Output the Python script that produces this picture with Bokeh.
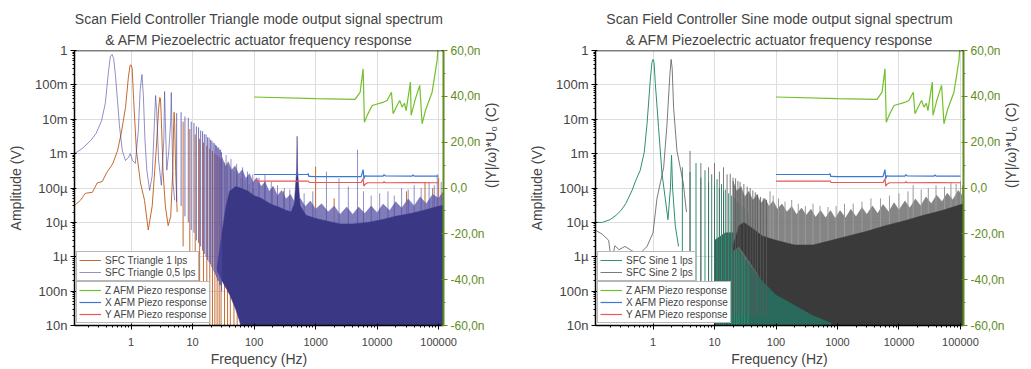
import math
from bokeh.plotting import figure
from bokeh.models import (Range1d, LinearAxis, LinearScale, FixedTicker, Legend, LegendItem,
                          Title, Span)
from bokeh.layouts import row
from bokeh.embed import file_html
from bokeh.resources import INLINE

FONT = "Liberation Sans"

# ---------------- axis ticks / labels ----------------
x_ticks = [1, 10, 100, 1000, 10000, 100000]
x_tick_labels = ["1", "10", "100", "1000", "10000", "100000"]
y_ticks = [1e-8, 1e-7, 1e-6, 1e-5, 1e-4, 1e-3, 1e-2, 1e-1, 1.0]
y_tick_labels = ["10n", "100n", "1µ", "10µ", "100µ", "1m", "10m", "100m", "1"]
r_ticks = [-60, -40, -20, 0, 20, 40, 60]
r_tick_labels = ["-60,0n", "-40,0n", "-20,0n", "0,0", "20,0n", "40,0n", "60,0n"]

# ---------------- Triangle mode spectra (Hz, V) ----------------
tri1_f = [0.12, 0.15, 0.18, 0.235, 0.28, 0.34, 0.40, 0.50, 0.60, 0.69, 0.81, 0.90, 0.96, 1.0, 1.04,
          1.1, 1.22, 1.42, 1.65, 1.9, 2.2, 2.55, 2.8, 2.92, 3.0, 3.1, 3.3, 3.6, 4.0, 4.4, 4.75, 4.9,
          5.0, 5.1, 5.3, 5.6]
tri1_a = [3.1e-5, 4.4e-5, 7e-5, 7.5e-5, 1.4e-4, 1.55e-4, 2.8e-4, 5e-4, 1.2e-3, 3.9e-3, 2.2e-2, 0.16,
          0.37, 0.38, 0.3, 0.035, 1.2e-3, 1.4e-4, 4.4e-5, 6e-6, 3e-5, 1.2e-3, 0.02, 0.043, 0.04, 0.01,
          3e-4, 3e-5, 8e-6, 1.5e-5, 3e-4, 6e-3, 0.016, 0.008, 3e-4, 2e-5]
tri1_spk_f = [7, 9, 11, 13, 15, 17, 19, 21, 23, 25, 27, 29, 33, 37, 41, 47, 53, 61, 71, 83, 97,
              150, 199, 301, 1000, 2000, 30000, 60000, 80000, 100000]
tri1_spk_top = [0.0085, 0.0052, 0.0036, 0.0027, 0.0021, 0.0017, 0.0014, 0.0012, 0.001, 9e-4, 8e-4,
                7e-4, 5.5e-4, 4.5e-4, 3.8e-4, 3e-4, 2.5e-4, 2e-4, 1.6e-4, 1.3e-4, 1e-4,
                1.5e-4, 1.1e-4, 8e-5, 4.2e-4, 5e-5, 8e-5, 1.5e-4, 1e-4, 2e-4]
tri1_spk_low = [2e-6, 8e-7, 4e-7, 1.5e-7, 6e-8, 3e-8, 1e-9, 1e-9, 1e-9, 1e-9, 1e-9, 1e-9, 1e-9, 1e-9,
                1e-9, 1e-9, 1e-9, 1e-9, 1e-9, 1e-9, 1e-9, 1e-9, 1e-9, 1e-9, 1e-9, 1e-9, 1e-9, 1e-9,
                1e-9, 1e-9]

tri05_f = [0.12, 0.16, 0.22, 0.27, 0.33, 0.38, 0.43, 0.46, 0.49, 0.52, 0.556, 0.6, 0.645, 0.72, 0.81,
           0.9, 0.97, 1.05, 1.17, 1.31, 1.4, 1.5, 1.58, 1.68, 1.8, 2.0, 2.2, 2.4, 2.5, 2.6, 2.8, 3.1,
           3.4, 3.5, 3.6, 3.8, 4.1, 4.4, 4.5, 4.6, 4.8, 5.1]
tri05_a = [1.0e-3, 1.4e-3, 2.4e-3, 3.9e-3, 9e-3, 0.029, 0.26, 0.67, 0.77, 0.58, 0.19, 0.035, 6.6e-3,
           1.2e-3, 6.3e-4, 7.6e-4, 1e-3, 6.3e-4, 5.2e-4, 4.7e-3, 0.068, 0.2, 0.049, 2.4e-3, 3.3e-4,
           8.5e-5, 2.3e-4, 9e-3, 0.049, 0.018, 6.3e-4, 1.2e-4, 2.4e-3, 0.064, 9e-3, 3.3e-4, 1.2e-3,
           9e-3, 0.06, 4.7e-3, 1.5e-4, 4.4e-5]
tri05_spk_f = [5.5, 6.5, 7.5, 8.5, 9.5, 10.5, 11.5, 12.5, 13.5, 14.5, 15.5, 16.5, 17.5, 18.5, 19.5,
               20.5, 21.5, 22.5, 23.5, 24.5, 25.5, 26.5, 27.5, 28.5, 29.5]
tri05_spk_top = [0.015, 0.016, 0.012, 0.011, 0.0085, 0.0078, 0.0062, 0.0058, 0.0047, 0.0045, 0.0037,
                 0.0036, 0.003, 0.0029, 0.0025, 0.0024, 0.0021, 0.002, 0.0018, 0.0017, 0.0015,
                 0.0015, 0.0013, 0.0013, 0.0011]
tri05_spk_low = [4e-5, 3e-5, 1.5e-5, 1e-5, 6e-6, 5e-6, 3e-6, 2.5e-6, 2e-6, 1.5e-6, 1.2e-6, 1e-6,
                 8e-7, 7e-7, 6e-7, 5e-7, 4e-7, 3.5e-7, 3e-7, 2.5e-7, 2e-7, 2e-7, 1.5e-7, 1.5e-7,
                 1e-7]
# isolated tall lines standing out of the dense region
tri05_hf_f = [35, 42, 52, 65, 78, 95, 120, 150, 190, 240, 310, 380, 650, 900, 1500, 2400, 3400,
              4800, 6000, 8000, 11000, 15000, 19000, 25000, 32000, 40000, 52000, 70000, 85000,
              95000, 110000]
tri05_hf_top = [9e-4, 7e-4, 5e-4, 4e-4, 3e-4, 2.5e-4, 2e-4, 2.5e-4, 1.5e-4, 1.2e-4, 1e-4, 9e-5,
                7e-5, 8e-5, 3e-4, 1.9e-4, 1.1e-4, 1.3e-3, 8e-5, 6e-5, 7e-5, 8e-5, 6e-5, 1e-4, 9e-5,
                1.2e-4, 1e-4, 1.5e-4, 1.2e-4, 2.5e-4, 1.5e-4]
# jagged upper fringe of the dense harmonic region
tri05_fuzz_f = [30, 34, 38, 43, 49, 56, 64, 73, 84, 96, 110, 130, 150, 175, 205, 240, 280, 330, 390,
                460, 560, 680, 820, 1000, 1250, 1600, 2000, 2500, 3200, 4000, 5000, 6300, 8000,
                10000, 12500, 16000, 20000, 25000, 32000, 40000, 50000, 63000, 80000, 100000, 120000]
tri05_fuzz_hi = [7.8e-4, 4.2e-4, 5.8e-4, 3.3e-4, 4.4e-4, 2.5e-4, 3.4e-4, 1.9e-4, 2.6e-4, 1.45e-4,
                 2e-4, 1.1e-4, 1.5e-4, 8e-5, 1.1e-4, 6e-5, 8.5e-5, 4.8e-5, 6.5e-5, 3.7e-5, 5e-5,
                 2.9e-5, 4.2e-5, 2.4e-5, 3.5e-5, 2e-5, 3e-5, 1.7e-5, 2.8e-5, 1.7e-5, 2.8e-5, 1.8e-5,
                 3e-5, 1.9e-5, 3.4e-5, 2.2e-5, 4e-5, 2.6e-5, 4.8e-5, 3e-5, 5.5e-5, 3.5e-5, 6.5e-5,
                 5e-5, 8e-5]
tri05_fuzz_lo_f = [30, 40, 60, 70, 120000]
tri05_fuzz_lo_a = [5e-7, 2e-7, 1e-8, 1e-9, 1e-9]
# dark solid part of the dense harmonic region
tri05_core_f = [25, 30, 35, 40, 50, 60, 80, 100, 130, 160, 200, 250, 320, 400, 450, 490, 500, 510,
                560, 700, 1000, 1500, 2500, 4000, 7000, 12000, 20000, 35000, 60000, 90000, 120000]
tri05_core_hi = [5e-7, 5e-6, 3e-5, 8e-5, 1.1e-4, 1e-4, 8e-5, 6e-5, 5e-5, 4e-5, 3.2e-5, 2.8e-5,
                 2.3e-5, 2e-5, 3.5e-5, 3e-4, 3.2e-3, 3e-4, 3e-5, 1.6e-5, 1.3e-5, 1.1e-5, 9e-6, 9e-6,
                 1e-5, 1.2e-5, 1.5e-5, 1.8e-5, 2.3e-5, 2.8e-5, 3.2e-5]
tri05_core_lo_f = [25, 30, 40, 50, 60, 70, 120000]
tri05_core_lo_a = [4e-7, 2e-7, 8e-8, 3e-8, 1.2e-8, 1e-9, 1e-9]

# ---------------- Sine mode spectra (Hz, V) ----------------
sin1_f = [0.116, 0.15, 0.2, 0.25, 0.3, 0.36, 0.456, 0.52, 0.62, 0.72, 0.8, 0.9, 0.96, 1.0, 1.04,
          1.09, 1.23, 1.4, 1.58, 1.75, 1.92, 2.0, 2.08, 2.3, 2.6]
sin1_a = [1e-5, 1e-5, 1.2e-5, 1.6e-5, 2.2e-5, 3.5e-5, 8.5e-5, 1.6e-4, 3.3e-4, 1.1e-3, 7.5e-3, 0.13,
          0.45, 0.55, 0.45, 0.11, 5.8e-3, 2.6e-4, 5e-5, 1.2e-5, 1e-4, 9e-4, 1e-4, 8e-6, 2e-6]
sin1_spk_f = [3, 4, 5, 6, 7, 8, 9, 10, 11, 12, 13, 14, 15, 17, 19, 21, 23, 25, 28, 31, 35]
sin1_spk_top = [4e-4, 2.9e-4, 5.3e-4, 2e-4, 3.3e-4, 1.5e-4, 2.5e-4, 1.2e-4, 1.8e-4, 1e-4, 1.3e-4,
                8e-5, 9e-5, 7e-5, 6e-5, 5e-5, 4e-5, 3.5e-5, 3e-5, 2.5e-5, 2e-5]
sin1_spk_low = [3e-8, 3e-8, 2e-8, 2e-8, 2e-8, 1.5e-8, 1.5e-8, 1e-8, 1e-9, 1e-9, 1e-9, 1e-9, 1e-9,
                1e-9, 1e-9, 1e-9, 1e-9, 1e-9, 1e-9, 1e-9, 1e-9]
sin1_band_f = [10, 15, 20, 30, 50, 80, 120, 200, 400, 800, 1100]
sin1_band_hi = [3e-6, 5e-6, 5e-6, 4e-6, 3e-6, 2e-6, 1e-6, 5e-7, 2e-7, 1e-7, 2e-8]
sin1_lo_f = [10, 1100]
sin1_lo_a = [1e-9, 1e-9]

sin2_f = [0.116, 0.15, 0.19, 0.21, 0.24, 0.28, 0.35, 0.45, 0.6, 0.8, 1.0, 1.16, 1.49, 1.69, 1.88,
          1.97, 2.05, 2.16, 2.45, 3.1, 3.5]
sin2_a = [5.9e-6, 4.5e-6, 3e-6, 7e-7, 2.1e-6, 1.6e-6, 2e-6, 1.5e-6, 1.2e-6, 2e-6, 5e-6, 5e-5, 4e-4,
          7.5e-3, 0.2, 0.55, 0.3, 0.022, 1.2e-3, 1.4e-4, 2e-5]
sin2_spk_f = [4, 6, 8, 10, 12, 14, 16, 18, 20, 22, 24, 26, 30, 34, 38, 42, 46, 50, 56, 62, 70]
sin2_spk_top = [1.2e-3, 5.3e-4, 4e-4, 5.3e-4, 3e-4, 4e-4, 2.5e-4, 2.6e-4, 2e-4, 1.9e-4, 1.6e-4,
                1.5e-4, 1.3e-4, 1.1e-4, 1e-4, 8.5e-5, 7.5e-5, 6.5e-5, 5.5e-5, 5e-5, 4.5e-5]
sin2_spk_low = [1e-7, 8e-8, 6e-8, 5e-8, 4e-8, 3e-8, 3e-8, 2e-8, 2e-8, 2e-8, 2e-8, 2e-8, 2e-8,
                2e-8, 2e-8, 2e-8, 2e-8, 2e-8, 2e-8, 2e-8, 2e-8]
sin2_hf_f = [80, 90, 110, 140, 180, 230, 300, 400, 520, 700, 950, 1300, 1800, 2500, 3500, 5000,
             7000, 10000, 14000, 17000, 23000, 30000, 40000, 55000, 70000, 85000, 100000, 108000]
sin2_hf_top = [8e-5, 6e-5, 5e-5, 4e-5, 4.5e-5, 3.5e-5, 3e-5, 3.5e-5, 3e-5, 2.8e-5, 3e-5, 3.5e-5,
               3.5e-5, 4e-5, 5e-5, 5e-5, 6e-5, 7e-5, 8e-5, 1.2e-4, 9e-5, 1e-4, 1.2e-4, 1.1e-4,
               1.4e-4, 1.3e-4, 1.6e-4, 1.2e-4]
sin2_fuzz_f = [20, 23, 27, 31, 36, 42, 49, 57, 66, 77, 90, 105, 125, 150, 180, 215, 260, 310, 370,
               440, 530, 640, 770, 920, 1100, 1350, 1650, 2000, 2500, 3000, 3700, 4500, 5500, 6800,
               8300, 10000, 12500, 15000, 18500, 22500, 27500, 33500, 41000, 50000, 61000, 75000,
               92000, 112000]
sin2_fuzz_hi = [1.6e-4, 8e-5, 1.1e-4, 5.5e-5, 8e-5, 4.3e-5, 6.5e-5, 3.6e-5, 5e-5, 2.9e-5, 4.2e-5,
                2.4e-5, 3.4e-5, 2e-5, 2.9e-5, 1.7e-5, 2.6e-5, 1.6e-5, 2.4e-5, 1.4e-5, 2.2e-5,
                1.35e-5, 2.2e-5, 1.3e-5, 2.2e-5, 1.35e-5, 2.4e-5, 1.45e-5, 2.7e-5, 1.7e-5, 3e-5,
                1.8e-5, 3.3e-5, 2e-5, 3.7e-5, 2.3e-5, 4.2e-5, 2.6e-5, 4.8e-5, 3e-5, 5.5e-5, 3.5e-5,
                6.2e-5, 4e-5, 7e-5, 4.5e-5, 8.5e-5, 5.5e-5]
sin2_fuzz_lo_f = [20, 30, 50, 112000]
sin2_fuzz_lo_a = [3e-6, 1e-6, 3e-7, 3e-7]
sin2_core_f = [20, 25, 30, 40, 60, 100, 200, 400, 800, 1500, 3000, 6000, 12000, 25000, 50000,
               112000]
sin2_core_hi = [2e-6, 8e-6, 1e-5, 7e-6, 4e-6, 3e-6, 2.2e-6, 2.2e-6, 3e-6, 4e-6, 5.5e-6, 8e-6,
                1.1e-5, 1.6e-5, 2.2e-5, 3.5e-5]
sin2_core_lo_f = [20, 25, 40, 60, 100, 200, 400, 800, 1000, 112000]
sin2_core_lo_a = [1.5e-6, 2e-6, 6e-7, 2e-7, 8e-8, 4e-8, 2e-8, 1.2e-8, 1e-9, 1e-9]

# ---------------- AFM piezo responses (Hz, nC) ----------------
z_f = [100, 1000, 4390, 5300, 5920, 6210, 6880, 8300, 12800, 14500, 17100, 18200, 21100, 23300,
       25500, 27800, 29600, 34800, 35700, 42000, 49300, 53900, 61000, 78300, 94600, 100000]
z_v = [39.7, 39.0, 38.7, 41.8, 52.0, 28.7, 31.7, 36.0, 37.5, 38.2, 41.8, 32.4, 36.0, 38.2, 35.3,
       37.0, 33.8, 46.2, 31.7, 39.0, 44.8, 28.0, 33.8, 41.8, 55.7, 66.0]
x_f = [100, 740, 760, 775, 790, 1000, 5500, 5920, 6100, 6300, 7000, 12500, 13000, 13600, 37000,
       38400, 40000, 100000]
x_v = [5.9, 5.9, 6.3, 5.0, 5.1, 5.0, 5.0, 8.0, 4.0, 5.3, 5.2, 5.2, 5.8, 5.3, 5.2, 5.7, 5.2, 5.2]
y_f = [100, 760, 790, 5500, 5920, 6100, 6300, 7000, 12500, 13000, 13600, 38400, 100000]
y_v = [3.0, 3.0, 2.4, 2.4, 4.0, 0.8, 1.5, 2.3, 2.3, 2.7, 2.3, 2.4, 2.3]

# ---------------- colours ----------------
C_ORANGE = "#c46a2f"
C_PURPLE = "#4a46a0"
C_PURPLE_FUZZ = "#6a66ae"
C_PURPLE_CORE = "#3a3785"
C_TEAL = "#2f8f74"
C_TEAL_BAND = "#2a6a5c"
C_GREY = "#5a5a5a"
C_GREY_FUZZ = "#707070"
C_GREY_CORE = "#3a3a3a"
C_Z = "#72c02c"
C_X = "#3a78d8"
C_Y = "#e8575a"
C_AXIS_G = "#5f8c1c"

x_minor = [k * 10.0 ** e for e in range(-1, 6) for k in range(2, 10)]
y_minor = [k * 10.0 ** e for e in range(-8, 0) for k in range(2, 10)]


def make_fig(t1, t2, xr, fw, bl, br):
    p = figure(x_axis_type="log", y_axis_type="log", x_range=Range1d(*xr),
               y_range=Range1d(1e-8, 1.0), frame_width=fw, frame_height=275,
               min_border_left=bl, min_border_right=br, min_border_top=50,
               min_border_bottom=44, output_backend="svg", toolbar_location=None,
               background_fill_color="white", border_fill_color="white")
    p.outline_line_color = None
    p.extra_y_ranges = {"piezo": Range1d(-60, 60)}
    p.extra_y_scales = {"piezo": LinearScale()}

    p.add_layout(Title(text=t2, align="center", text_font=FONT, text_font_size="14px",
                       text_font_style="normal", text_line_height=1.0, standoff=6), "above")
    p.add_layout(Title(text=t1, align="center", text_font=FONT, text_font_size="14px",
                       text_font_style="normal", text_line_height=1.0, standoff=0), "above")

    xa = p.xaxis[0]
    xa.ticker = FixedTicker(ticks=x_ticks, minor_ticks=x_minor)
    xa.major_label_overrides = dict(zip(x_ticks, x_tick_labels))
    xa.axis_label = "Frequency (Hz)"
    ya = p.yaxis[0]
    ya.ticker = FixedTicker(ticks=y_ticks, minor_ticks=y_minor)
    ya.major_label_overrides = dict(zip(y_ticks, y_tick_labels))
    ya.axis_label = "Amplitude (V)"

    ra = LinearAxis(y_range_name="piezo",
                    ticker=FixedTicker(ticks=r_ticks, minor_ticks=[-50, -30, -10, 10, 30, 50]),
                    major_label_overrides=dict(zip(r_ticks, r_tick_labels)),
                    axis_label="(|Y|/ω)*U₀ (C)")
    p.add_layout(ra, "right")

    for ax in (xa, ya, ra):
        ax.major_label_text_font = FONT
        ax.axis_label_text_font = FONT
        ax.axis_label_text_font_size = "14px"
        ax.axis_label_text_font_style = "normal"
        ax.major_tick_in = 2
        ax.major_tick_out = 4
        ax.minor_tick_in = 0
        ax.minor_tick_out = 2
        ax.axis_line_width = 1.5
        ax.major_label_standoff = 3
    xa.major_label_text_font_size = "11px"
    ya.major_label_text_font_size = "13px"
    ra.major_label_text_font_size = "12px"
    xa.major_label_standoff = 8
    xa.axis_label_standoff = 2
    ya.axis_label_standoff = 8
    ra.axis_label_standoff = 3
    ra.axis_label_orientation = math.pi / 2
    ra.axis_line_color = C_AXIS_G
    ra.major_tick_line_color = C_AXIS_G
    ra.minor_tick_line_color = C_AXIS_G
    ra.major_label_text_color = C_AXIS_G
    ra.axis_line_width = 2

    p.xgrid.grid_line_color = "#dedede"
    p.ygrid.grid_line_color = "#dedede"
    p.add_layout(Span(location=1.0, dimension="width", line_color="black", line_width=1.5))
    return p


def add_band(p, f, hi, lo_f, lo_a, color, alpha=1.0):
    p.patch(f + lo_f[::-1], hi + lo_a[::-1], fill_color=color, fill_alpha=alpha,
            line_color=color, line_alpha=alpha, line_width=0.5)


def add_piezo(p):
    rz = p.line(z_f, z_v, y_range_name="piezo", line_color=C_Z, line_width=1.2)
    rx = p.line(x_f, x_v, y_range_name="piezo", line_color=C_X, line_width=1.2)
    ry = p.line(y_f, y_v, y_range_name="piezo", line_color=C_Y, line_width=1.2)
    return rz, rx, ry


def add_legends(p, items1, items2):
    for items, loc in ((items1, (2, 44)), (items2, (2, 2))):
        leg = Legend(items=[LegendItem(label=l, renderers=[r]) for l, r in items],
                     location=loc, margin=0, padding=2, spacing=0, label_height=12,
                     glyph_height=12, glyph_width=22, label_standoff=4,
                     label_text_font=FONT, label_text_font_size="10px",
                     border_line_color="#707070", border_line_width=1.5,
                     background_fill_color="white", background_fill_alpha=1.0)
        p.add_layout(leg)


# ---------------- left chart ----------------
p1 = make_fig("Scan Field Controller Triangle mode output signal spectrum",
              "& AFM Piezoelectric actuator frequency response",
              (0.12, 120000), 369, 74, 75)
p1.segment(tri1_spk_f, tri1_spk_low, tri1_spk_f, tri1_spk_top, line_color=C_ORANGE, line_width=1)
r_tri1 = p1.line(tri1_f, tri1_a, line_color=C_ORANGE, line_width=1)
add_band(p1, tri05_fuzz_f, tri05_fuzz_hi, tri05_fuzz_lo_f, tri05_fuzz_lo_a, C_PURPLE_FUZZ, 0.85)
p1.segment(tri05_hf_f, [1e-6] * len(tri05_hf_f), tri05_hf_f, tri05_hf_top, line_color=C_PURPLE,
           line_alpha=0.6, line_width=1)
add_band(p1, tri05_core_f, tri05_core_hi, tri05_core_lo_f, tri05_core_lo_a, C_PURPLE_CORE)
p1.segment(tri05_spk_f, tri05_spk_low, tri05_spk_f, tri05_spk_top, line_color=C_PURPLE,
           line_alpha=0.75, line_width=1)
r_tri05 = p1.line(tri05_f, tri05_a, line_color=C_PURPLE, line_alpha=0.6, line_width=1)
rz1, rx1, ry1 = add_piezo(p1)
add_legends(p1, [("SFC Triangle 1 lps", r_tri1), ("SFC Triangle 0,5 lps", r_tri05)],
            [("Z AFM Piezo response", rz1), ("X AFM Piezo response", rx1),
             ("Y AFM Piezo response", ry1)])

# ---------------- right chart ----------------
p2 = make_fig("Scan Field Controller Sine mode output signal spectrum",
              "& AFM Piezoelectric actuator frequency response",
              (0.116, 112000), 368, 77, 60)
add_band(p2, sin1_band_f, sin1_band_hi, sin1_lo_f, sin1_lo_a, C_TEAL_BAND)
p2.segment(sin1_spk_f, sin1_spk_low, sin1_spk_f, sin1_spk_top, line_color=C_TEAL, line_width=1)
r_sin1 = p2.line(sin1_f, sin1_a, line_color=C_TEAL, line_width=1)
add_band(p2, sin2_fuzz_f, sin2_fuzz_hi, sin2_fuzz_lo_f, sin2_fuzz_lo_a, C_GREY_FUZZ, 0.85)
p2.segment(sin2_hf_f, [1e-6] * len(sin2_hf_f), sin2_hf_f, sin2_hf_top, line_color="#9a9a9a",
           line_width=1)
add_band(p2, sin2_core_f, sin2_core_hi, sin2_core_lo_f, sin2_core_lo_a, C_GREY_CORE)
p2.segment(sin2_spk_f, sin2_spk_low, sin2_spk_f, sin2_spk_top, line_color=C_GREY,
           line_alpha=0.8, line_width=1)
r_sin2 = p2.line(sin2_f, sin2_a, line_color=C_GREY, line_alpha=0.8, line_width=1)
rz2, rx2, ry2 = add_piezo(p2)
add_legends(p2, [("SFC Sine 1 lps", r_sin1), ("SFC Sine 2 lps", r_sin2)],
            [("Z AFM Piezo response", rz2), ("X AFM Piezo response", rx2),
             ("Y AFM Piezo response", ry2)])

layout = row(p1, p2)
open("out.html", "w").write(file_html(layout, INLINE, "Spectrum"))
